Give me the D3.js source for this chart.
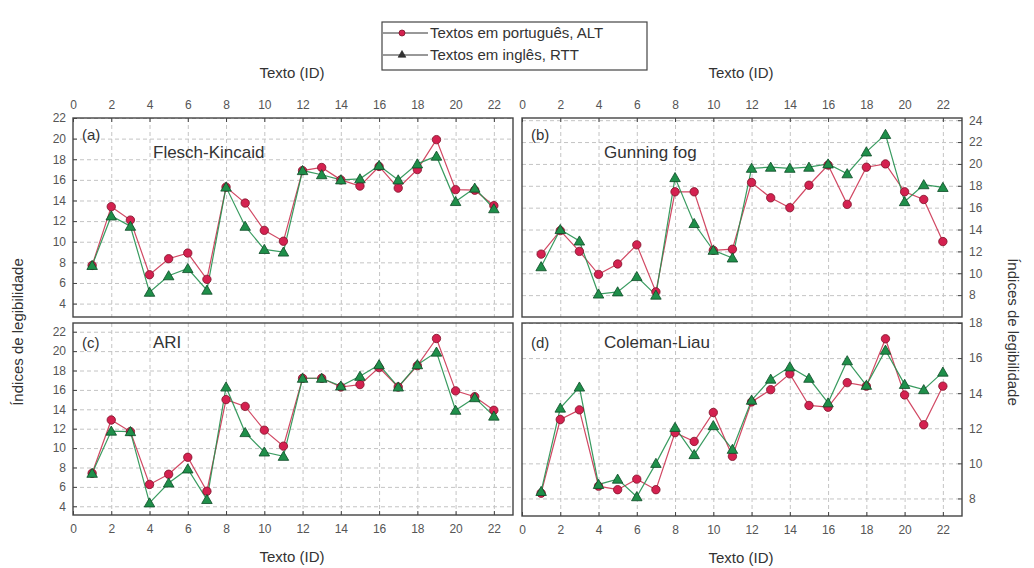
<!DOCTYPE html>
<html>
<head>
<meta charset="utf-8">
<script src="https://cdn.jsdelivr.net/npm/d3@7"></script>
<style>
  body { margin: 0; background: #fff; }
  svg { font-family: "Liberation Sans", Arial, sans-serif; }
  .tick text { fill: #555; font-size: 12px; }
  .grid line { stroke: #c4c4c4; stroke-dasharray: 4,3; }
  .grid .domain { display: none; }
</style>
</head>
<body>
<svg id="chart" width="1034" height="568"></svg>
<script>
// text ids on the x axis
const textIds = [1, 2, 3, 4, 5, 6, 7, 8, 9, 10, 11, 12, 13, 14, 15, 16, 17, 18, 19, 20, 21, 22];
const xTicks = [0, 2, 4, 6, 8, 10, 12, 14, 16, 18, 20, 22];

// (a) Flesch-Kincaid
const fkPt = [7.7, 13.4, 12.1, 6.8, 8.35, 8.9, 6.35, 15.3, 13.75, 11.1, 10.05, 16.9, 17.2, 16.0, 15.4, 17.3, 15.2, 17.0, 19.9, 15.05, 15.0, 13.5];
const fkEn = [7.7, 12.5, 11.5, 5.1, 6.7, 7.4, 5.3, 15.3, 11.5, 9.25, 9.0, 16.9, 16.5, 16.0, 16.1, 17.4, 16.0, 17.55, 18.3, 13.9, 15.2, 13.2];
// (b) Gunning fog
const gfPt = [11.75, 13.9, 12.0, 9.9, 10.85, 12.6, 8.3, 17.45, 17.45, 12.1, 12.2, 18.3, 16.9, 16.0, 18.05, 19.9, 16.3, 19.7, 20.0, 17.45, 16.75, 12.9];
const gfEn = [10.6, 14.0, 12.95, 8.1, 8.3, 9.7, 8.0, 18.75, 14.55, 12.1, 11.4, 19.6, 19.7, 19.6, 19.7, 20.0, 19.1, 21.1, 22.7, 16.55, 18.1, 17.85];
// (c) ARI
const ariPt = [7.4, 12.9, 11.7, 6.25, 7.3, 9.05, 5.55, 15.0, 14.3, 11.85, 10.2, 17.2, 17.2, 16.3, 16.55, 18.3, 16.3, 18.5, 21.3, 15.9, 15.3, 13.9];
const ariEn = [7.4, 11.75, 11.7, 4.35, 6.4, 7.85, 4.7, 16.3, 11.6, 9.6, 9.15, 17.2, 17.2, 16.4, 17.4, 18.6, 16.3, 18.6, 19.9, 13.9, 15.2, 13.3];
// (d) Coleman-Liau
const clPt = [8.3, 12.5, 13.05, 8.7, 8.5, 9.1, 8.5, 11.75, 11.25, 12.9, 10.4, 13.5, 14.2, 15.1, 13.3, 13.2, 14.6, 14.4, 17.1, 13.9, 12.2, 14.4];
const clEn = [8.4, 13.15, 14.35, 8.8, 9.1, 8.1, 10.0, 12.05, 10.5, 12.15, 10.8, 13.6, 14.8, 15.5, 14.85, 13.45, 15.85, 14.45, 16.45, 14.5, 14.2, 15.2];

const yTicksA = [4, 6, 8, 10, 12, 14, 16, 18, 20, 22];
const yTicksB = [8, 10, 12, 14, 16, 18, 20, 22, 24];
const yTicksC = [4, 6, 8, 10, 12, 14, 16, 18, 20, 22];
const yTicksD = [8, 10, 12, 14, 16, 18];

const seriesNames = ['Textos em português, ALT', 'Textos em inglês, RTT'];
const xTitle = 'Texto (ID)';
const yTitle = 'Índices de legibilidade';

const colors = {
  ptLine: '#cc3452', ptFill: '#d42150', ptStroke: '#7d1128',
  enLine: '#23904f', enFill: '#1f8f4a', enStroke: '#0d4a26'
};

const panels = [
  { tag: '(a)', name: 'Flesch-Kincaid', pt: fkPt, en: fkEn, yDomain: [2.7, 22], yTicks: yTicksA,
    x0: 73, y0: 118, w: 440, h: 199, ySide: 'left', xSide: 'top' },
  { tag: '(b)', name: 'Gunning fog', pt: gfPt, en: gfEn, yDomain: [6, 24.2], yTicks: yTicksB,
    x0: 522, y0: 118, w: 440, h: 199, ySide: 'right', xSide: 'top' },
  { tag: '(c)', name: 'ARI', pt: ariPt, en: ariEn, yDomain: [3.1, 22.9], yTicks: yTicksC,
    x0: 73, y0: 323, w: 440, h: 192, ySide: 'left', xSide: 'bottom' },
  { tag: '(d)', name: 'Coleman-Liau', pt: clPt, en: clEn, yDomain: [7, 18], yTicks: yTicksD,
    x0: 522, y0: 323, w: 440, h: 193, ySide: 'right', xSide: 'bottom' }
];

const svg = d3.select('#chart');
const tri = d3.symbol().type(d3.symbolTriangle).size(48);
const triSmall = d3.symbol().type(d3.symbolTriangle).size(26);

panels.forEach(p => {
  const g = svg.append('g').attr('transform', `translate(${p.x0},${p.y0})`);

  const x = d3.scaleLinear().domain([0, 23]).range([0, p.w]);
  const y = d3.scaleLinear().domain(p.yDomain).range([p.h, 0]);

  // dashed grid
  g.append('g').attr('class', 'grid')
    .call(d3.axisBottom(x).tickValues(xTicks.slice(1)).tickSize(p.h).tickFormat(''));
  g.append('g').attr('class', 'grid')
    .call(d3.axisLeft(y).tickValues(p.yTicks).tickSize(-p.w).tickFormat(''));

  // axes, ticks pointing inwards
  const xAxis = (p.xSide === 'top' ? d3.axisTop(x) : d3.axisBottom(x))
    .tickValues(xTicks).tickSizeInner(-4).tickSizeOuter(0).tickPadding(9);
  const xG = g.append('g');
  if (p.xSide === 'bottom') xG.attr('transform', `translate(0,${p.h})`);
  xG.call(xAxis);

  const yAxis = (p.ySide === 'left' ? d3.axisLeft(y) : d3.axisRight(y))
    .tickValues(p.yTicks).tickSizeInner(-4).tickSizeOuter(0).tickPadding(7);
  const yG = g.append('g');
  if (p.ySide === 'right') yG.attr('transform', `translate(${p.w},0)`);
  yG.call(yAxis);

  g.selectAll('.domain').remove();
  g.selectAll('.tick line').attr('stroke', '#444');

  // frame
  g.append('rect').attr('width', p.w).attr('height', p.h)
    .attr('fill', 'none').attr('stroke', '#444').attr('stroke-width', 1.4);

  const line = vals => d3.line().x((d, i) => x(textIds[i])).y(d => y(d))(vals);

  g.append('path').attr('d', line(p.pt)).attr('fill', 'none')
    .attr('stroke', colors.ptLine).attr('stroke-width', 1.2).attr('stroke-opacity', 0.9);
  g.append('path').attr('d', line(p.en)).attr('fill', 'none')
    .attr('stroke', colors.enLine).attr('stroke-width', 1.2).attr('stroke-opacity', 0.9);

  g.selectAll('.pt').data(p.pt).enter().append('circle')
    .attr('cx', (d, i) => x(textIds[i])).attr('cy', d => y(d)).attr('r', 4.2)
    .attr('fill', colors.ptFill).attr('stroke', colors.ptStroke).attr('stroke-width', 0.8);
  g.selectAll('.en').data(p.en).enter().append('path')
    .attr('d', tri)
    .attr('transform', (d, i) => `translate(${x(textIds[i])},${y(d) + 1})`)
    .attr('fill', colors.enFill).attr('stroke', colors.enStroke).attr('stroke-width', 0.8);

  // panel labels
  g.append('text').attr('x', p.ySide === 'left' ? 9 : 9).attr('y', p.xSide === 'top' ? 22 : 25)
    .attr('font-size', 15).attr('fill', '#333').text(p.tag);
  g.append('text').attr('x', p.ySide === 'left' ? 80 : 82).attr('y', p.xSide === 'top' ? 40 : 25)
    .attr('font-size', 17).attr('fill', '#333').text(p.name);

  // x axis title
  g.append('text').attr('text-anchor', 'middle')
    .attr('x', p.w / 2 - 1)
    .attr('y', p.xSide === 'top' ? -40 : p.h + 47)
    .attr('font-size', 15).attr('fill', '#333').text(xTitle);
});

// y titles
svg.append('text').attr('transform', 'translate(23,332) rotate(-90)')
  .attr('text-anchor', 'middle').attr('font-size', 15).attr('fill', '#333').text(yTitle);
svg.append('text').attr('transform', 'translate(1008,332) rotate(90)')
  .attr('text-anchor', 'middle').attr('font-size', 15).attr('fill', '#333').text(yTitle);

// legend
const lg = svg.append('g').attr('transform', 'translate(382,22)');
lg.append('rect').attr('width', 265).attr('height', 48)
  .attr('fill', '#fff').attr('stroke', '#444').attr('stroke-width', 1.2);
seriesNames.forEach((name, i) => {
  const cy = 11 + i * 22;
  lg.append('line').attr('x1', 1).attr('x2', 46).attr('y1', cy).attr('y2', cy)
    .attr('stroke', '#333').attr('stroke-width', 1);
  if (i === 0) {
    lg.append('circle').attr('cx', 20).attr('cy', cy).attr('r', 3)
      .attr('fill', colors.ptFill).attr('stroke', colors.ptStroke).attr('stroke-width', 0.8);
  } else {
    lg.append('path').attr('d', triSmall).attr('transform', `translate(20,${cy})`)
      .attr('fill', '#333').attr('stroke', '#222').attr('stroke-width', 0.6);
  }
  lg.append('text').attr('x', 48).attr('y', cy + 5).attr('font-size', 15)
    .attr('fill', '#333').text(name);
});
</script>
</body>
</html>
